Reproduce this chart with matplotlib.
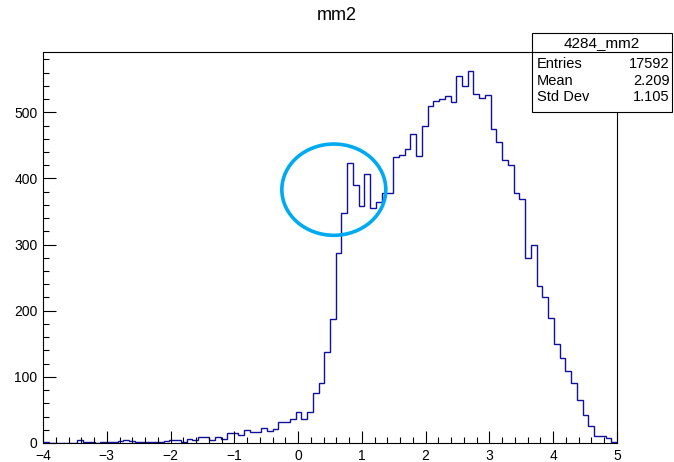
import numpy as np
import matplotlib.pyplot as plt
from matplotlib.patches import Ellipse, Rectangle
from matplotlib.ticker import MultipleLocator

plt.rcParams['font.family'] = ['Liberation Sans', 'DejaVu Sans']

# histogram mm2, 100 bins from -4 to 5
x_min, x_max, n_bins = -4.0, 5.0, 100
counts = [1, 0, 0, 0, 0, 0, 4, 1, 1, 0, 1, 2, 2, 3, 4, 3, 2, 2, 1, 1,
          2, 3, 4, 4, 2, 6, 4, 9, 9, 5, 9, 6,
          15, 15, 12, 20, 16, 16, 23, 18, 21, 31, 31, 36,
          47, 36, 47, 75, 91, 137, 188, 288, 347, 424, 390, 358, 406, 356,
          365, 378, 378, 432, 435, 444,
          467, 434, 480, 510, 517, 520, 525, 516, 555, 540, 563, 527, 522,
          526, 475, 455, 428, 420, 378, 369,
          280, 299, 237, 221, 189, 149, 129, 109, 90, 65, 43, 26, 11, 11, 7, 1]

stat_title = '4284_mm2'
stat_names = ['Entries', 'Mean', 'Std Dev']
stat_values = ['17592', '2.209', '1.105']

W, H = 674, 462
fig = plt.figure(figsize=(W / 100, H / 100), dpi=100)

def fx(px):
    return px / W

def fy(py):
    return 1 - py / H

# frame: left 43, right 617, top 52, bottom 443 (pixels)
ax = fig.add_axes([fx(43), fy(443), fx(617) - fx(43), fy(52) - fy(443)])

edges = np.linspace(x_min, x_max, n_bins + 1)
ax.stairs(counts, edges, color='#10109e', linewidth=1.0, baseline=0)

ax.set_xlim(x_min, x_max)
ax.set_ylim(0, 1.05 * max(counts))

ax.xaxis.set_major_locator(MultipleLocator(1))
ax.xaxis.set_minor_locator(MultipleLocator(0.2))
ax.yaxis.set_major_locator(MultipleLocator(100))
ax.yaxis.set_minor_locator(MultipleLocator(20))
ax.tick_params(which='both', direction='in', top=False, right=False,
               labelsize=10, width=0.8, color='black')
ax.tick_params(which='major', length=9)
ax.tick_params(which='minor', length=4.5)
ax.tick_params(axis='x', pad=4)
ax.tick_params(axis='y', pad=4)
for sp in ax.spines.values():
    sp.set_linewidth(0.8)

# highlight around the bump
circle = Ellipse((0.56, 383), 1.63, 138, fill=False, edgecolor='#00aaf0',
                 linewidth=2.6, zorder=5)
ax.add_patch(circle)

fig.text(0.5, fy(16), 'mm2', ha='center', va='center', fontsize=13)

# stat box
box_l, box_r, box_t, box_b = 532, 672, 33, 112
fig.patches.append(Rectangle((fx(box_l), fy(box_b)), fx(box_r) - fx(box_l),
                             fy(box_t) - fy(box_b), transform=fig.transFigure,
                             facecolor='white', edgecolor='black', linewidth=0.8,
                             zorder=10))
fig.add_artist(plt.Line2D([fx(box_l), fx(box_r)], [fy(52), fy(52)],
                          transform=fig.transFigure, color='black',
                          linewidth=0.8, zorder=11))
fig.text(fx(602), fy(43), stat_title, ha='center', va='center',
         fontsize=11, zorder=12)
for i, (name, val) in enumerate(zip(stat_names, stat_values)):
    yy = fy(64 + 16.5 * i)
    fig.text(fx(537), yy, name, ha='left', va='center', fontsize=10.5, zorder=12)
    fig.text(fx(670), yy, val, ha='right', va='center', fontsize=10.5, zorder=12)

fig.savefig('out.png', dpi=100)
